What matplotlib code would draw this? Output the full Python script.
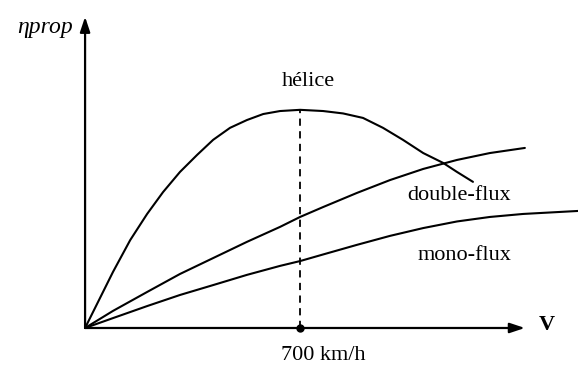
import matplotlib
matplotlib.use("Agg")
import matplotlib.pyplot as plt

V_HELICE = [0, 91, 147, 202, 254, 309, 365, 417, 472, 527, 580, 635, 700,
            775, 840, 905, 970, 1035, 1101, 1166, 1211, 1263]
ETA_HELICE = [0, 0.187, 0.293, 0.38, 0.453, 0.520, 0.577, 0.627, 0.667, 0.693,
              0.713, 0.723, 0.727, 0.723, 0.715, 0.700, 0.667, 0.627, 0.583, 0.550,
              0.520, 0.487]

V_DOUBLE = [0, 91, 202, 309, 417, 527, 635, 700, 775, 885, 993, 1101, 1211, 1318, 1432]
ETA_DOUBLE = [0, 0.057, 0.12, 0.18, 0.233, 0.287, 0.337, 0.37, 0.403, 0.45,
              0.493, 0.53, 0.56, 0.583, 0.60]

V_MONO = [0, 91, 202, 309, 417, 527, 635, 700, 775, 885, 993, 1101, 1211, 1318, 1426, 1605]
ETA_MONO = [0, 0.033, 0.073, 0.11, 0.143, 0.177, 0.207, 0.223, 0.245, 0.277, 0.307,
            0.333, 0.355, 0.37, 0.38, 0.39]

V_REF = 700
ETA_MAX = 0.727

serif = ["Liberation Serif", "DejaVu Serif"]

fig = plt.figure(figsize=(5.78, 3.67), dpi=100)
ax = fig.add_axes([0, 0, 1, 1])
ax.set_xlim(-277, 1605)
ax.set_ylim(-0.13, 1.093)
ax.axis("off")

# axes avec fleches
ax.annotate("", xy=(1432, 0), xytext=(0, 0),
            arrowprops=dict(arrowstyle="-|>,head_length=0.9,head_width=0.3",
                            color="black", lw=1.6, shrinkA=0, shrinkB=0))
ax.annotate("", xy=(0, 1.037), xytext=(0, 0),
            arrowprops=dict(arrowstyle="-|>,head_length=0.9,head_width=0.3",
                            color="black", lw=1.6, shrinkA=0, shrinkB=0))

ax.plot(V_HELICE, ETA_HELICE, color="black", lw=1.5, solid_capstyle="round")
ax.plot(V_DOUBLE, ETA_DOUBLE, color="black", lw=1.5, solid_capstyle="round")
ax.plot(V_MONO, ETA_MONO, color="black", lw=1.5, solid_capstyle="round")

ax.plot([V_REF, V_REF], [0, ETA_MAX], color="black", lw=1.3, dashes=(4, 3))
ax.plot([V_REF], [0], "o", color="black", ms=5)

ax.text(726, 0.82, "hélice", family=serif, fontsize=16, ha="center", va="center")
ax.text(1218, 0.44, "double-flux", family=serif, fontsize=16, ha="center", va="center")
ax.text(1234, 0.243, "mono-flux", family=serif, fontsize=16, ha="center", va="center")
ax.text(775, -0.093, "700 km/h", family=serif, fontsize=16, ha="center", va="center")
ax.text(1504, 0.01, "V", family=serif, fontsize=16, weight="bold",
        ha="center", va="center")
ax.text(-130, 1.0, "ηprop", family=serif, style="italic", fontsize=17,
        ha="center", va="center")

fig.savefig("out.png", dpi=100)
